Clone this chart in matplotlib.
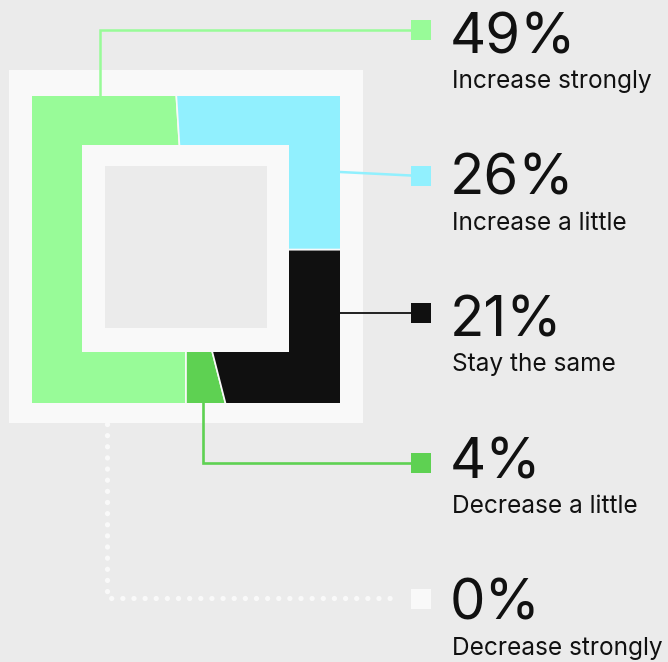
import matplotlib.pyplot as plt
from matplotlib.patches import Rectangle
from matplotlib.path import Path

# survey answers, listed top to bottom as in the legend
labels = ["Increase strongly", "Increase a little", "Stay the same",
          "Decrease a little", "Decrease strongly"]
values = [49, 26, 21, 4, 0]
colors = ["#98fb98", "#91f0fe", "#101010", "#5ed152", "#f9f9f9"]
# order of slices going counterclockwise around the square
pie_order = [0, 4, 3, 2, 1]

W, H = 668, 662
BG = "#ebebeb"
PAPER = "#f9f9f9"
INK = "#111111"


def Y(y):
    # layout below is measured from the top edge
    return H - y


fig = plt.figure(figsize=(W / 100, H / 100), dpi=100, facecolor=BG)
ax = fig.add_axes([0, 0, 1, 1])
ax.set_facecolor(BG)

# outer paper frame
ax.add_patch(Rectangle((9, Y(423)), 354, 353, facecolor=PAPER, edgecolor="none", zorder=1))

# pie, later cut down to the square
cx, cy = 186, Y(249.5)
start = 270 - 3.6 * values[0]
wedges, _ = ax.pie([values[i] for i in pie_order],
                   colors=[colors[i] for i in pie_order],
                   startangle=start, counterclock=True,
                   center=(cx, cy), radius=240,
                   wedgeprops=dict(edgecolor=PAPER, linewidth=1.2))
x0, x1, y0, y1 = 32, 340, Y(403), Y(96)
square = Path([(x0, y0), (x1, y0), (x1, y1), (x0, y1), (x0, y0)], closed=True)

# hole in the middle
ax.add_patch(Rectangle((82, Y(352)), 207, 207, facecolor=PAPER, edgecolor="none", zorder=4))
ax.add_patch(Rectangle((105, Y(328)), 162, 162, facecolor=BG, edgecolor="none", zorder=5))

# leader lines from the ring to the legend markers
mx = 421
rows = [30, 176, 313, 463, 599]
ax.plot([100, 100, mx], [Y(96), Y(29.5), Y(29.5)], color=colors[0], lw=1.8, zorder=2,
        solid_joinstyle="miter")
ax.plot([340, mx], [Y(172), Y(176)], color=colors[1], lw=1.8, zorder=2)
ax.plot([340, mx], [Y(313), Y(313)], color=colors[2], lw=1.3, zorder=2)
ax.plot([202.5, 202.5, mx], [Y(403), Y(463), Y(463)], color=colors[3], lw=1.9, zorder=2,
        solid_joinstyle="miter")
ax.plot([107, 107, 400], [Y(424), Y(598), Y(598)], color=PAPER, lw=3.8, zorder=2,
        linestyle=(0, (0.01, 2.1)), dash_capstyle="round")

# legend: square marker, big percentage, answer text
for i, (lab, val) in enumerate(zip(labels, values)):
    yc = rows[i]
    ax.add_patch(Rectangle((411, Y(yc + 10)), 20, 20, facecolor=colors[i],
                           edgecolor="none", zorder=6))
    base = 53 + i * 141.75
    ax.text(450, Y(base), f"{val}%", fontsize=40.5, family="Inter", color=INK,
            va="baseline", ha="left")
    ax.text(452, Y(base + 35), lab, fontsize=17.6, family="Inter", color=INK,
            va="baseline", ha="left")

ax.set_xlim(0, W)
ax.set_ylim(0, H)
ax.axis("off")
for w in wedges:
    w.set_zorder(3)
    w.set_clip_on(True)
    w.set_clip_path(square, ax.transData)
fig.savefig("out.png", dpi=100, facecolor=BG)
